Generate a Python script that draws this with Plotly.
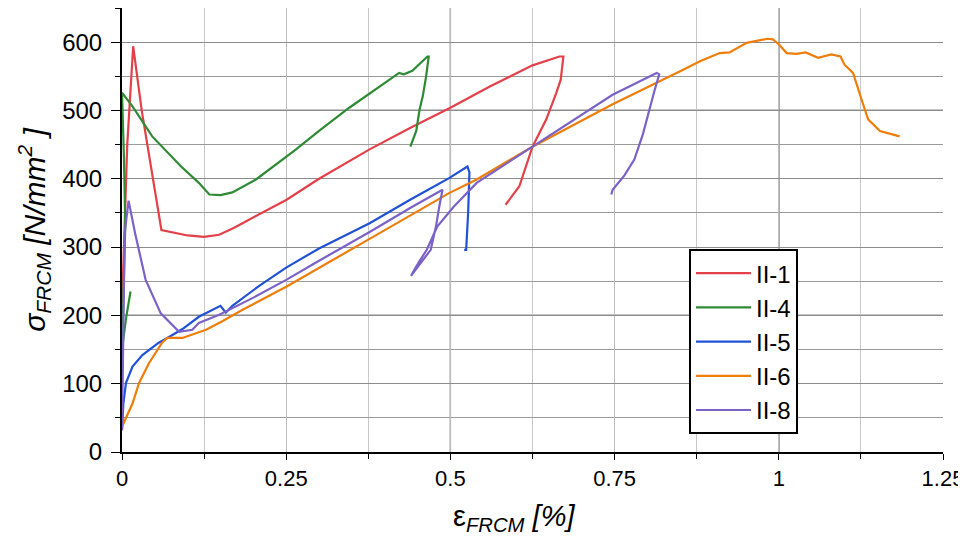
import plotly.graph_objects as go

# II-1 (red)
ii1_x = [0.0, 0.003, 0.008, 0.017, 0.03, 0.06, 0.10, 0.125, 0.148, 0.17, 0.20, 0.25, 0.30, 0.377, 0.44, 0.5, 0.56, 0.625, 0.666, 0.672, 0.668, 0.661, 0.646, 0.625, 0.605, 0.584]
ii1_y = [212, 300, 450, 594, 500, 325, 317, 315, 318, 328, 343, 369, 400, 443, 475, 504, 535, 566, 579, 579, 545, 525, 487, 447, 389, 362]

# II-4 (green)
ii4_x = [0.013, 0.006, 0.0, 0.003, 0.005, 0.003, 0.0, 0.016, 0.046, 0.09, 0.117, 0.133, 0.150, 0.168, 0.204, 0.265, 0.30, 0.346, 0.392, 0.422, 0.429, 0.442, 0.465, 0.467, 0.463, 0.458, 0.453, 0.448, 0.439]
ii4_y = [235, 195, 150, 250, 330, 430, 526, 506, 462, 418, 394, 377, 376, 380, 399, 443, 470, 504, 535, 555, 553, 558, 579, 579, 550, 521, 501, 470, 447]

# II-5 (blue)
ii5_x = [0.0, 0.002, 0.006, 0.016, 0.031, 0.056, 0.069, 0.092, 0.117, 0.150, 0.158, 0.168, 0.21, 0.25, 0.30, 0.377, 0.44, 0.498, 0.526, 0.529, 0.527, 0.524, 0.521]
ii5_y = [32, 70, 101, 125, 142, 160, 167, 180, 198, 214, 204, 214, 244, 270, 298, 335, 370, 401, 418, 409, 350, 296, 296]

# II-6 (orange)
ii6_x = [0.0, 0.016, 0.026, 0.041, 0.061, 0.069, 0.092, 0.128, 0.152, 0.183, 0.25, 0.30, 0.377, 0.498, 0.54, 0.625, 0.747, 0.849, 0.88, 0.910, 0.925, 0.951, 0.983, 0.991, 1.0, 1.012, 1.027, 1.041, 1.06, 1.08, 1.094, 1.1, 1.113, 1.126, 1.136, 1.154, 1.184]
ii6_y = [37, 71, 101, 130, 160, 167, 167, 179, 191, 208, 242, 270, 312, 379, 399, 447, 509, 557, 572, 584, 585, 599, 605, 604, 597, 584, 583, 585, 577, 582, 579, 567, 555, 516, 487, 470, 462]

# II-8 (purple)
ii8_x = [0.0, 0.002, 0.004, 0.010, 0.02, 0.036, 0.059, 0.087, 0.107, 0.117, 0.148, 0.20, 0.25, 0.30, 0.377, 0.44, 0.488, 0.483, 0.478, 0.47, 0.44, 0.452, 0.464, 0.48, 0.505, 0.54, 0.595, 0.67, 0.747, 0.814, 0.818, 0.811, 0.803, 0.793, 0.78, 0.765, 0.747, 0.745]
ii8_y = [32, 200, 320, 368, 320, 252, 203, 176, 179, 189, 201, 226, 252, 280, 322, 358, 384, 359, 330, 296, 258, 278, 296, 330, 359, 394, 428, 475, 523, 555, 553, 530, 501, 465, 428, 405, 384, 377]

names = ["II-1", "II-4", "II-5", "II-6", "II-8"]
colors = ["#e4404a", "#2f8a34", "#2052d6", "#ef7d0a", "#7a62c6"]
xs = [ii1_x, ii4_x, ii5_x, ii6_x, ii8_x]
ys = [ii1_y, ii4_y, ii5_y, ii6_y, ii8_y]

x_ticks = [0, 0.25, 0.5, 0.75, 1, 1.25]
x_tick_labels = ["0", "0.25", "0.5", "0.75", "1", "1.25"]
y_ticks = [0, 100, 200, 300, 400, 500, 600]

fig = go.Figure()
for n, c, x, y in zip(names, colors, xs, ys):
    fig.add_trace(go.Scatter(x=x, y=y, mode="lines", name=n,
                             line=dict(color=c, width=2.2)))

# darker reference grid lines
for yv in [200, 500]:
    fig.add_shape(type="line", xref="paper", yref="y", x0=0, x1=1, y0=yv, y1=yv,
                  line=dict(color="#1a1a1a", width=1.3), layer="below")
for xv in [0.5, 1.0]:
    fig.add_shape(type="line", xref="x", yref="paper", x0=xv, x1=xv, y0=0, y1=1,
                  line=dict(color="#4a4a4a", width=1.3), layer="below")

font_main = "Liberation Sans, Arial, sans-serif"
nb = "\u00a0"

# x-axis title placed slightly left of centre as in the original
fig.add_annotation(text="ε<i><sub>FRCM</sub>" + nb + "[%]</i>", xref="paper", yref="paper",
                   x=0.478, y=-0.148, xanchor="center", yanchor="middle",
                   showarrow=False, font=dict(size=29, family=font_main, color="black"))

fig.update_layout(
    width=966, height=538,
    margin=dict(l=114, r=31, t=0, b=94, autoexpand=False),
    paper_bgcolor="white", plot_bgcolor="white",
    font=dict(family=font_main, color="black"),
    showlegend=True,
    legend=dict(x=0.6906, y=0.457, xanchor="left", yanchor="top",
                bordercolor="black", borderwidth=2, bgcolor="white",
                font=dict(size=24, family=font_main), tracegroupgap=0,
                itemwidth=55),
    xaxis=dict(range=[0, 1.25], tickvals=x_ticks, ticktext=x_tick_labels,
               showgrid=True, gridcolor="#bdbdbd", gridwidth=1,
               minor=dict(dtick=0.125, tick0=0, showgrid=True, gridcolor="#c8c8c8",
                          ticks="outside", ticklen=5, tickcolor="black"),
               ticks="outside", ticklen=6, tickcolor="black",
               showline=True, linecolor="black", linewidth=2,
               tickfont=dict(size=22), zeroline=False, automargin=False),
    yaxis=dict(range=[0, 650], tickvals=y_ticks,
               showgrid=True, gridcolor="#8c8c8c", gridwidth=1,
               minor=dict(dtick=50, tick0=0, showgrid=True, gridcolor="#9a9a9a",
                          ticks="outside", ticklen=5, tickcolor="black"),
               ticks="outside", ticklen=9, tickcolor="black", ticklabelstandoff=4,
               showline=True, linecolor="black", linewidth=2,
               tickfont=dict(size=24), zeroline=False, automargin=False,
               title=dict(text="<i>σ<sub>FRCM</sub>" + nb + "[N/mm<sup>2</sup>" + nb + "]</i>" + nb * 8,
                          font=dict(size=30), standoff=8)),
)

fig.write_html("out.html")
